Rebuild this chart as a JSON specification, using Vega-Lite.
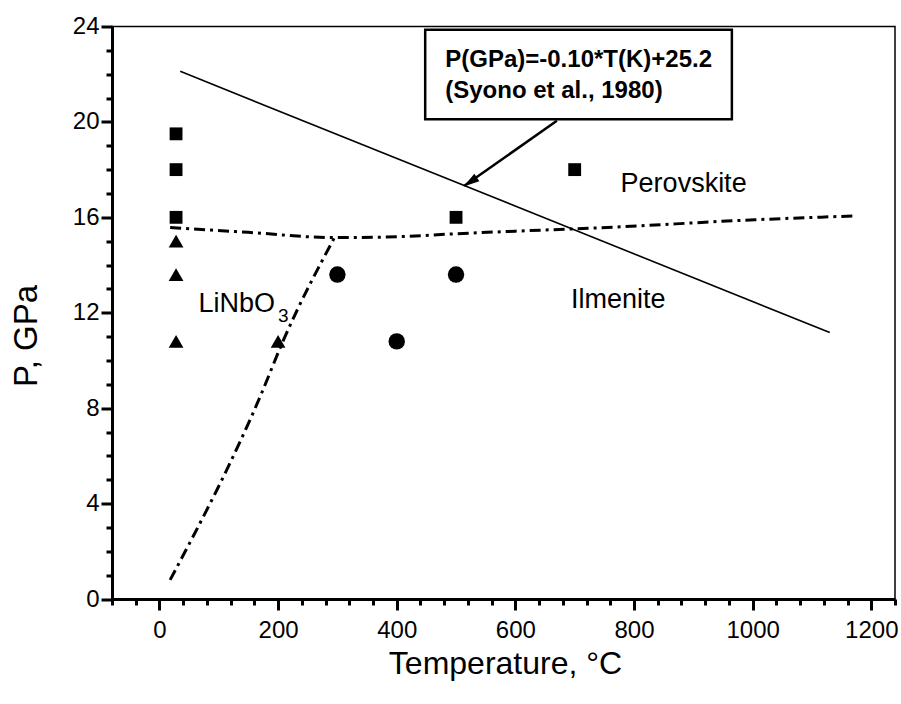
{
  "$schema": "https://vega.github.io/schema/vega-lite/v6.json",
  "width": 783,
  "height": 572.5,
  "autosize": {"type": "none"},
  "padding": {"left": 112, "top": 26.5, "right": 6, "bottom": 105},
  "background": "white",
  "config": {
    "view": {"stroke": "black", "strokeWidth": 1.5},
    "font": "Liberation Sans"
  },
  "datasets": {
    "pts": [
      {"T": 28, "P": 19.5, "phase": "Perovskite"},
      {"T": 28, "P": 18, "phase": "Perovskite"},
      {"T": 28, "P": 16, "phase": "Perovskite"},
      {"T": 500, "P": 16, "phase": "Perovskite"},
      {"T": 700, "P": 18, "phase": "Perovskite"},
      {"T": 28, "P": 15, "phase": "LiNbO3"},
      {"T": 28, "P": 13.6, "phase": "LiNbO3"},
      {"T": 28, "P": 10.8, "phase": "LiNbO3"},
      {"T": 200, "P": 10.8, "phase": "LiNbO3"},
      {"T": 300, "P": 13.6, "phase": "Ilmenite"},
      {"T": 500, "P": 13.6, "phase": "Ilmenite"},
      {"T": 400, "P": 10.8, "phase": "Ilmenite"}
    ],
    "syono": [{"T": 35, "P": 22.12}, {"T": 1130, "P": 11.17}],
    "dash": [
      {"seg": "a", "T": 18, "P": 15.57},
      {"seg": "a", "T": 150, "P": 15.37},
      {"seg": "a", "T": 295, "P": 15.15},
      {"seg": "a", "T": 406, "P": 15.19},
      {"seg": "a", "T": 490, "P": 15.3},
      {"seg": "a", "T": 600, "P": 15.42},
      {"seg": "a", "T": 743, "P": 15.56},
      {"seg": "a", "T": 996, "P": 15.89},
      {"seg": "a", "T": 1173, "P": 16.06},
      {"seg": "b", "T": 18, "P": 0.8},
      {"seg": "b", "T": 170, "P": 8.5},
      {"seg": "b", "T": 209, "P": 10.85},
      {"seg": "b", "T": 295, "P": 15.15}
    ],
    "box": [{"T": 448, "T2": 965, "P": 20.11, "P2": 23.86}],
    "arrow": [{"T": 670, "P": 20.05, "T2": 514, "P2": 17.32}],
    "tip": [{"T": 512.6, "P": 17.29}],
    "labels": [
      {"T": 777.4, "P": 17.07, "label": "Perovskite"},
      {"T": 693.8, "P": 12.19, "label": "Ilmenite"},
      {"T": 65.7, "P": 12.05, "label": "LiNbO"}
    ],
    "sub": [{"T": 200, "P": 11.63, "label": "3"}],
    "eq": [
      {"T": 481.8, "P": 22.32, "label": "P(GPa)=-0.10*T(K)+25.2"},
      {"T": 481.8, "P": 21.0, "label": "(Syono et al., 1980)"}
    ]
  },
  "encoding": {
    "x": {
      "field": "T",
      "type": "quantitative",
      "scale": {"domain": [-80, 1240], "nice": false, "zero": false},
      "axis": {
        "values": [-80, -40, 0, 40, 80, 120, 160, 200, 240, 280, 320, 360, 400, 440, 480, 520, 560, 600, 640, 680, 720, 760, 800, 840, 880, 920, 960, 1000, 1040, 1080, 1120, 1160, 1200, 1240],
        "format": "d",
        "labelExpr": "datum.value % 200 === 0 ? datum.label : ''",
        "tickSize": {"condition": {"test": "datum.value % 200 === 0", "value": 11}, "value": 6},
        "tickWidth": 3,
        "tickColor": "black",
        "domainWidth": 3,
        "domainColor": "black",
        "grid": false,
        "labelFont": "Liberation Sans",
        "labelFontSize": 24,
        "labelColor": "black",
        "labelPadding": 8,
        "labelOverlap": false,
        "labelFlush": false,
        "title": "Temperature, °C",
        "titleFont": "Liberation Sans",
        "titleFontSize": 32,
        "titleFontWeight": "normal",
        "titleColor": "black",
        "titleX": 393,
        "titleY": 74,
        "titleBaseline": "alphabetic",
        "titleAlign": "center"
      }
    },
    "y": {
      "field": "P",
      "type": "quantitative",
      "scale": {"domain": [0, 24], "nice": false, "zero": false},
      "axis": {
        "values": [0, 1, 2, 3, 4, 5, 6, 7, 8, 9, 10, 11, 12, 13, 14, 15, 16, 17, 18, 19, 20, 21, 22, 23, 24],
        "labelExpr": "datum.value % 4 === 0 ? datum.label : ''",
        "tickSize": {"condition": {"test": "datum.value % 4 === 0", "value": 11}, "value": 6},
        "tickWidth": 3,
        "tickColor": "black",
        "domainWidth": 3,
        "domainColor": "black",
        "grid": false,
        "labelFont": "Liberation Sans",
        "labelFontSize": 24,
        "labelColor": "black",
        "labelPadding": 2,
        "labelOverlap": false,
        "labelFlush": false,
        "title": "P, GPa",
        "titleFont": "Liberation Sans",
        "titleFontSize": 33,
        "titleFontWeight": "normal",
        "titleColor": "black",
        "titleAngle": -90,
        "titleX": -86,
        "titleY": 309,
        "titleBaseline": "middle",
        "titleAlign": "center"
      }
    }
  },
  "layer": [
    {
      "data": {"name": "box"},
      "mark": {"type": "rect", "fill": "white", "stroke": "black", "strokeWidth": 2.5},
      "encoding": {"x2": {"field": "T2"}, "y2": {"field": "P2"}}
    },
    {
      "data": {"name": "syono"},
      "mark": {"type": "line", "color": "black", "strokeWidth": 1.6},
      "encoding": {}
    },
    {
      "data": {"name": "dash"},
      "mark": {"type": "line", "color": "black", "strokeWidth": 3, "strokeDash": [11, 5, 3, 5], "interpolate": "monotone"},
      "encoding": {"detail": {"field": "seg"}}
    },
    {
      "data": {"name": "arrow"},
      "mark": {"type": "rule", "color": "black", "strokeWidth": 2.5},
      "encoding": {"x2": {"field": "T2"}, "y2": {"field": "P2"}}
    },
    {
      "data": {"name": "tip"},
      "mark": {"type": "point", "shape": "M0,0L-0.5,1.8L0.5,1.8Z", "filled": true, "color": "black", "opacity": 1, "size": 320, "angle": 236}
    },
    {
      "data": {"name": "pts"},
      "mark": {"type": "point", "filled": true, "color": "black", "opacity": 1, "strokeWidth": 0},
      "encoding": {
        "shape": {"field": "phase", "type": "nominal", "scale": {"domain": ["Perovskite", "LiNbO3", "Ilmenite"], "range": ["square", "triangle-up", "circle"]}, "legend": null},
        "size": {"field": "phase", "type": "nominal", "scale": {"domain": ["Perovskite", "LiNbO3", "Ilmenite"], "range": [165, 270, 210]}, "legend": null}
      }
    },
    {
      "data": {"name": "labels"},
      "mark": {"type": "text", "align": "left", "baseline": "alphabetic", "font": "Liberation Sans", "fontSize": 27, "color": "black"},
      "encoding": {"text": {"field": "label"}}
    },
    {
      "data": {"name": "sub"},
      "mark": {"type": "text", "align": "left", "baseline": "alphabetic", "font": "Liberation Sans", "fontSize": 19, "color": "black"},
      "encoding": {"text": {"field": "label"}}
    },
    {
      "data": {"name": "eq"},
      "mark": {"type": "text", "align": "left", "baseline": "alphabetic", "font": "Liberation Sans", "fontSize": 24, "fontWeight": "bold", "color": "black"},
      "encoding": {"text": {"field": "label"}}
    }
  ]
}
